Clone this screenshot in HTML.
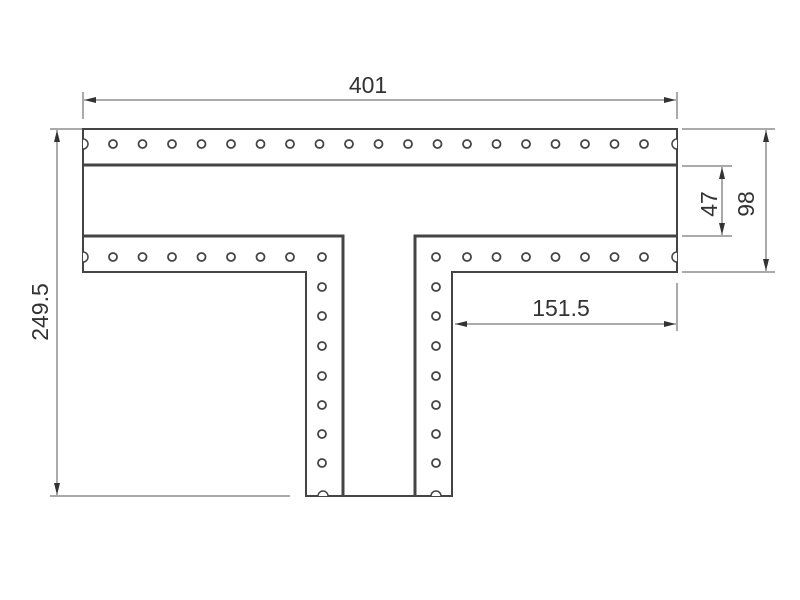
<!DOCTYPE html>
<html><head><meta charset="utf-8"><style>
html,body{margin:0;padding:0;background:#fff;}
svg{display:block;}
text{font-family:"Liberation Sans",sans-serif;font-size:23px;fill:#333;}
</style></head><body>
<svg width="800" height="600" viewBox="0 0 800 600" xmlns="http://www.w3.org/2000/svg">
<defs>
<marker id="a" viewBox="0 0 12 6" refX="12" refY="3" markerWidth="12" markerHeight="6" orient="auto-start-reverse" markerUnits="userSpaceOnUse"><path d="M0,0 L12,3 L0,6 z" fill="#333"/></marker>
</defs>
<g stroke="#444" fill="none">
<path d="M83,129 H677 V272 H452 V496 H306 V272 H83 Z" stroke-width="2"/>
<path d="M83,165 H677" stroke-width="3"/>
<path d="M83,236 H343 V496 M415,496 V236 H677" stroke-width="3"/>
</g>
<g fill="#fff" stroke="#444" stroke-width="1.5">
<path d="M83,139 a5,5 0 0 1 0,10"/><path d="M83,252 a5,5 0 0 1 0,10"/>
<path d="M677,139 a5,5 0 0 0 0,10"/><path d="M677,252 a5,5 0 0 0 0,10"/>
<path d="M318,496 a5,5 0 0 1 10,0"/><path d="M431,496 a5,5 0 0 1 10,0"/>
</g>
<g fill="none" stroke="#444" stroke-width="1.8">
<circle cx="113" cy="144" r="4"/><circle cx="142.5" cy="144" r="4"/><circle cx="172" cy="144" r="4"/><circle cx="201.5" cy="144" r="4"/><circle cx="231" cy="144" r="4"/><circle cx="260.5" cy="144" r="4"/><circle cx="290" cy="144" r="4"/><circle cx="319.5" cy="144" r="4"/><circle cx="349" cy="144" r="4"/><circle cx="378.5" cy="144" r="4"/><circle cx="408" cy="144" r="4"/><circle cx="437.5" cy="144" r="4"/><circle cx="467" cy="144" r="4"/><circle cx="496.5" cy="144" r="4"/><circle cx="526" cy="144" r="4"/><circle cx="555.5" cy="144" r="4"/><circle cx="585" cy="144" r="4"/><circle cx="614.5" cy="144" r="4"/><circle cx="644" cy="144" r="4"/>
<circle cx="113" cy="257" r="4"/><circle cx="142.5" cy="257" r="4"/><circle cx="172" cy="257" r="4"/><circle cx="201.5" cy="257" r="4"/><circle cx="231" cy="257" r="4"/><circle cx="260.5" cy="257" r="4"/><circle cx="290" cy="257" r="4"/><circle cx="322" cy="257" r="4"/>
<circle cx="436" cy="257" r="4"/><circle cx="467" cy="257" r="4"/><circle cx="496.5" cy="257" r="4"/><circle cx="526" cy="257" r="4"/><circle cx="555.5" cy="257" r="4"/><circle cx="585" cy="257" r="4"/><circle cx="614.5" cy="257" r="4"/><circle cx="644" cy="257" r="4"/>
<circle cx="322" cy="287" r="4"/><circle cx="322" cy="316" r="4"/><circle cx="322" cy="346" r="4"/><circle cx="322" cy="376" r="4"/><circle cx="322" cy="405" r="4"/><circle cx="322" cy="434" r="4"/><circle cx="322" cy="463" r="4"/>
<circle cx="436" cy="287" r="4"/><circle cx="436" cy="316" r="4"/><circle cx="436" cy="346" r="4"/><circle cx="436" cy="376" r="4"/><circle cx="436" cy="405" r="4"/><circle cx="436" cy="434" r="4"/><circle cx="436" cy="463" r="4"/>
</g>
<g stroke="#555" stroke-width="1" fill="none">
<path d="M83,92 V119 M677,92 V119"/>
<path d="M84,100 H676" marker-start="url(#a)" marker-end="url(#a)"/>
<path d="M50,129 H82 M50,496 H290"/>
<path d="M57,130 V495" marker-start="url(#a)" marker-end="url(#a)"/>
<path d="M682,129 H775 M682,272 H775"/>
<path d="M766,130 V271" marker-start="url(#a)" marker-end="url(#a)"/>
<path d="M682,166 H732 M682,236 H732"/>
<path d="M722,167 V235" marker-start="url(#a)" marker-end="url(#a)"/>
<path d="M677,283 V331"/>
<path d="M455,324 H676" marker-start="url(#a)" marker-end="url(#a)"/>
</g>
<text x="368" y="93" text-anchor="middle">401</text>
<text x="561" y="316" text-anchor="middle">151.5</text>
<text transform="translate(48,312) rotate(-90)" text-anchor="middle">249.5</text>
<text transform="translate(754,204) rotate(-90)" text-anchor="middle">98</text>
<text transform="translate(717,204) rotate(-90)" text-anchor="middle">47</text>
</svg>
</body></html>
